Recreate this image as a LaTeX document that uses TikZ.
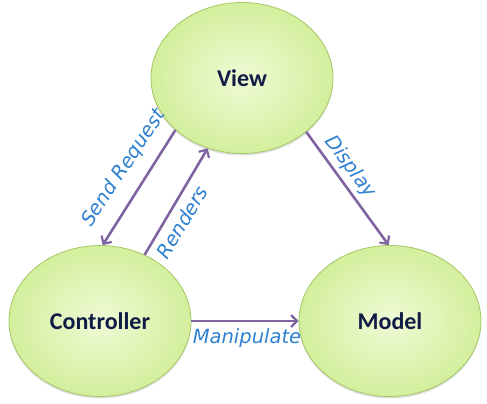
\documentclass[tikz,border=0pt]{standalone}
\usepackage{fontspec}
\setmainfont{Carlito}
\newfontfamily\labfont{DejaVu Sans}
\usetikzlibrary{shapes.geometric,arrows.meta,shadows}
\definecolor{fillin}{HTML}{EFFAD6}
\definecolor{fillout}{HTML}{D3EF9C}
\definecolor{edge}{HTML}{A3C868}
\definecolor{arr}{HTML}{8064A2}
\definecolor{lab}{HTML}{2E80D0}
\definecolor{txt}{HTML}{101C44}
\tikzset{
  mvc/.style={ellipse, draw=edge, line width=0.8pt, inner color=fillin, outer color=fillout,
    minimum width=182pt, minimum height=151pt, font=\fontsize{24}{28}\selectfont\bfseries, text=txt,
    drop shadow={shadow xshift=0pt, shadow yshift=-2pt, opacity=0.25, fill=gray}},
  conn/.style={draw=arr, line width=2.6pt, -{Straight Barb[length=6pt,width=12pt,line width=2.2pt]}},
  lbl/.style={font=\labfont\itshape\fontsize{19.5}{22}\selectfont, text=lab, inner sep=0pt}
}
\begin{document}
\begin{tikzpicture}[x=1pt,y=-1pt]
\useasboundingbox (0,0) rectangle (487,404);
\node[mvc] (view) at (242,78) {View};
\node[mvc] (ctrl) at (100,321) {Controller};
\node[mvc] (model) at (390,321) {Model};
\draw[conn] (view.218.7) -- (ctrl.88);
\draw[conn] (ctrl.56) -- (view.244.7);
\draw[conn] (view.320.5) -- (model.91.5);
\draw[conn] (ctrl.east) -- (model.west);
\node[lbl, rotate=56.4] (lsend) at (124,168) {Send Request};
\node[lbl, rotate=58.7] (lrend) at (182,222) {Renders};
\node[lbl, rotate=-53.7] (ldisp) at (350,167) {Display};
\node[lbl] (lman) at (247,338) {Manipulate};
\end{tikzpicture}
\end{document}
